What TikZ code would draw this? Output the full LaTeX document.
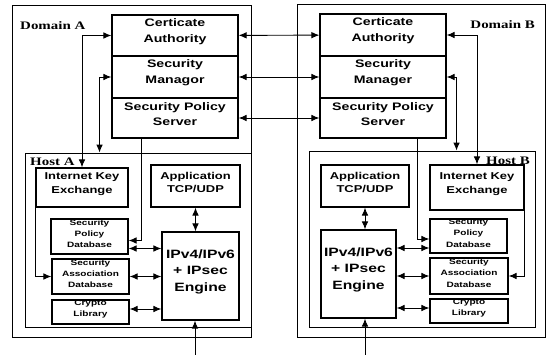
\documentclass[tikz,border=0pt]{standalone}
\usepackage{fontspec}
\setmainfont{Liberation Sans}[FakeStretch=1.3]
\newfontfamily\domfont{Liberation Serif}[FakeStretch=1.3]
\usetikzlibrary{arrows.meta,positioning,calc,fit}

\begin{document}
\begin{tikzpicture}[
  x=0.03cm, y=-0.03cm,
  block/.style={draw,line width=1.1pt,inner sep=0pt,align=center,
    font=\fontsize{9.3}{13.5}\selectfont\bfseries},
  midblock/.style={block,font=\fontsize{8.5}{11.5}\selectfont\bfseries},
  smallblock/.style={block,font=\fontsize{6.6}{9.6}\selectfont\bfseries},
  engblock/.style={block,font=\fontsize{10.3}{14}\selectfont\bfseries},
  frame/.style={draw,line width=0.8pt,inner sep=0pt},
  lbl/.style={inner sep=0pt,font=\domfont\fontsize{9.8}{12}\selectfont\bfseries},
  arrow/.style={{Latex[length=2.4mm,width=2mm]}-{Latex[length=2.4mm,width=2mm]},line width=0.8pt},
  oneway/.style={-{Latex[length=2.4mm,width=2mm]},line width=0.8pt},
]
  \useasboundingbox (0,0) rectangle (546,355);

  % domains and hosts
  \node[frame,fit={(12,5) (251,337)}] (domA) {};
  \node[frame,fit={(297,4) (545,337)}] (domB) {};
  \node[frame,fit={(25,153) (251,327)}] (hostA) {};
  \node[frame,fit={(309,151) (535,327)}] (hostB) {};
  \node[lbl,anchor=west] (domAlbl) at (20,26) {Domain A};
  \node[lbl,anchor=east] (domBlbl) at (535,25) {Domain B};
  \node[lbl,anchor=west] (hostAlbl) at (30,162) {Host A};
  \node[lbl,anchor=east] (hostBlbl) at (530,161) {Host B};

  % domain servers
  \node[block,fit={(112,15) (238,56)}] (caA) {Certicate\\Authority};
  \node[block,fit={(112,56) (238,98)}] (smA) {Security\\Managor};
  \node[block,fit={(112,98) (238,138)}] (spsA) {Security Policy\\Server};
  \node[block,fit={(320,14) (446,56)}] (caB) {Certicate\\Authority};
  \node[block,fit={(320,56) (446,98)}] (smB) {Security\\Manager};
  \node[block,fit={(320,98) (446,138)}] (spsB) {Security Policy\\Server};

  % host A
  \node[midblock,fit={(36,168) (128,207)}] (ikeA) {Internet Key\\Exchange};
  \node[midblock,fit={(151,165) (240,207)}] (appA) {Application\\TCP/UDP};
  \node[smallblock,fit={(51,219) (128,254)}] (spdA) {Security\\Policy\\Database};
  \node[smallblock,fit={(52,259) (129,294)}] (sadA) {Security\\Association\\Database};
  \node[smallblock,fit={(52,300) (129,324)}] (crA) {Crypto\\Library};
  \node[engblock,fit={(162,232) (239,320)}] (engA) {IPv4/IPv6\\+ IPsec\\Engine};

  % host B
  \node[midblock,fit={(430,165) (524,210)}] (ikeB) {Internet Key\\Exchange};
  \node[midblock,fit={(321,165) (409,207)}] (appB) {Application\\TCP/UDP};
  \node[smallblock,fit={(430,219) (507,253)}] (spdB) {Security\\Policy\\Database};
  \node[smallblock,fit={(430,258) (508,294)}] (sadB) {Security\\Association\\Database};
  \node[smallblock,fit={(430,299) (508,323)}] (crB) {Crypto\\Library};
  \node[engblock,fit={(321,230) (396,318)}] (engB) {IPv4/IPv6\\+ IPsec\\Engine};

  % between domains
  \draw[arrow] (caA) -- (caB);
  \draw[arrow] (smA) -- (smB);
  \draw[arrow] (spsA) -- (spsB);

  % servers down to hosts
  \draw[arrow] (caA.west) -| (ikeA.north);
  \draw[arrow] (smA.west) -| ($(hostA.north west)+(75,0)$);
  \draw[arrow] (caB.east) -| (ikeB.north);
  \draw[arrow] (smB.east) -| ($(hostB.north west)+(148,0)$);
  \draw[oneway] ($(spsA.south west)+(30,0)$) |- ($(spdA.east)+(0,4)$);
  \draw[oneway] ($(spsB.south west)+(98,0)$) |- ($(spdB.west)+(0,3)$);

  % key exchange to SA database
  \draw[oneway] (ikeA.south west) |- (sadA.west);
  \draw[oneway] (ikeB.south east) |- (sadB.east);

  % engine links, host A
  \coordinate (pA) at ($(spdA.east)+(0,12)$);
  \draw[arrow] (pA) -- (pA -| engA.west);
  \draw[arrow] (sadA.east) -- (sadA.east -| engA.west);
  \draw[arrow] ($(crA.east)+(0,-3)$) -- ($(crA.east -| engA.west)+(0,-3)$);
  \draw[arrow] (appA.south) -- (appA.south |- engA.north);
  \coordinate (inA) at (195,355);
  \draw[oneway] (inA) -- (inA |- engA.south);

  % engine links, host B
  \coordinate (pB) at ($(spdB.west)+(0,12)$);
  \draw[arrow] (pB -| engB.east) -- (pB);
  \draw[arrow] (engB.east |- sadB.west) -- (sadB.west);
  \draw[arrow] ($(engB.east |- crB.west)+(0,-3)$) -- ($(crB.west)+(0,-3)$);
  \draw[arrow] (appB.south) -- (appB.south |- engB.north);
  \coordinate (inB) at (365,355);
  \draw[oneway] (inB) -- (inB |- engB.south);
\end{tikzpicture}
\end{document}
